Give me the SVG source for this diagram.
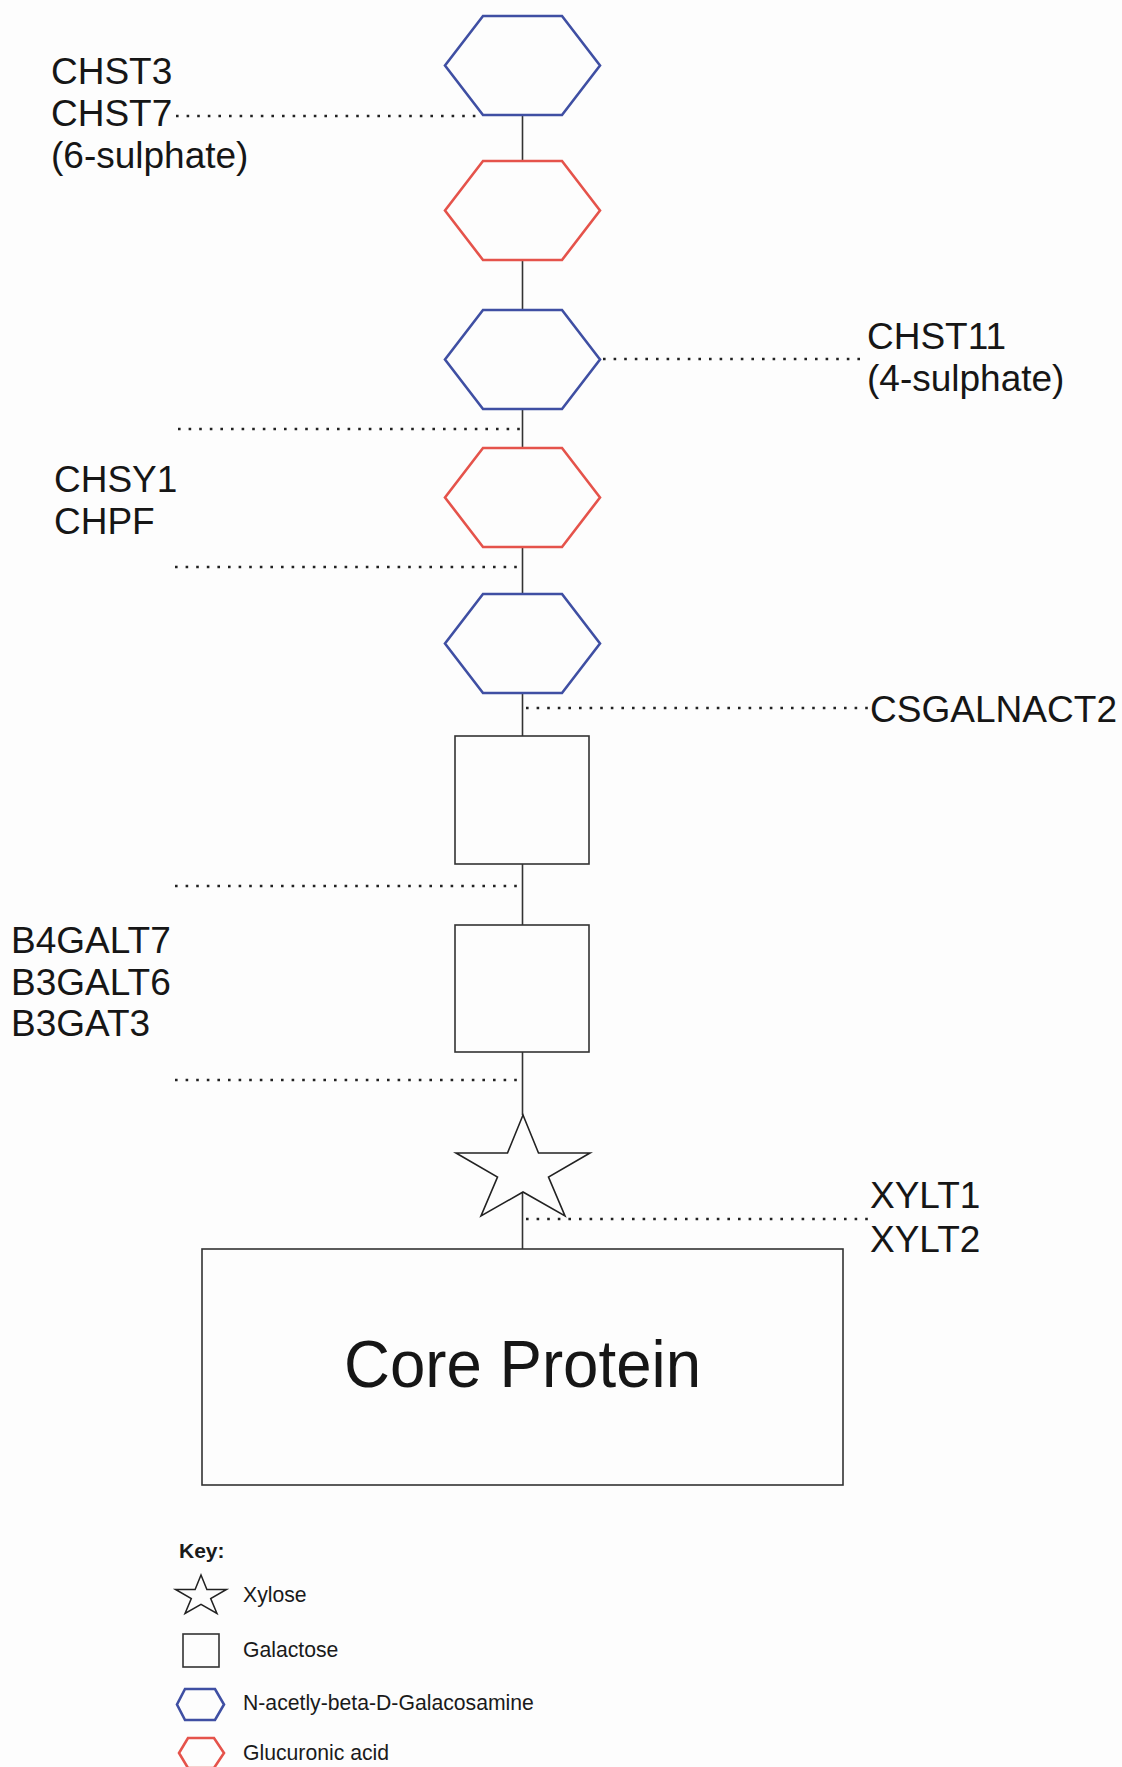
<svg xmlns="http://www.w3.org/2000/svg" xmlns:xlink="http://www.w3.org/1999/xlink" width="1122" height="1767" viewBox="0 0 1122 1767">
  <style>
    .bg { fill: #fdfdfd; }
    .hex { fill: none; stroke-width: 2.6; stroke-linejoin: miter; }
    .blue { stroke: #3f4fa3; }
    .red { stroke: #e5534b; }
    .box { fill: none; stroke: #333; stroke-width: 1.6; }
    .link { stroke: #333; stroke-width: 1.6; fill: none; }
    .dots { stroke: #222; stroke-width: 2.6; stroke-dasharray: 2.6 8; fill: none; }
    .lbl { font-family: "Liberation Sans", Arial, sans-serif; font-size: 37px; fill: #161616; }
    .core { font-family: "Liberation Sans", Arial, sans-serif; font-size: 67px; fill: #161616; }
    .key { font-family: "Liberation Sans", Arial, sans-serif; font-size: 21.2px; fill: #1a1a1a; }
    .keyhead { font-family: "Liberation Sans", Arial, sans-serif; font-size: 21px; font-weight: bold; fill: #1a1a1a; }
  </style>
  <defs>
    <!-- flat-topped hexagon, 155 x 99 -->
    <polygon id="hexShape" points="38,0 117,0 155,49.5 117,99 38,99 0,49.5"/>
    <!-- five-pointed star, origin at the top point -->
    <polygon id="starShape" points="0,0 15.5,38 67,38 25.5,62 42,101 0,77 -42,101 -25.5,62 -67,38 -15.5,38"/>
  </defs>

  <rect class="bg" x="0" y="0" width="1122" height="1767"/>

  <!-- backbone links between residues -->
  <g id="connectors">
    <line class="link" x1="522.5" y1="115" x2="522.5" y2="161"/>
    <line class="link" x1="522.5" y1="260" x2="522.5" y2="310"/>
    <line class="link" x1="522.5" y1="409" x2="522.5" y2="448"/>
    <line class="link" x1="522.5" y1="547" x2="522.5" y2="594"/>
    <line class="link" x1="522.5" y1="693" x2="522.5" y2="736"/>
    <line class="link" x1="522.5" y1="864" x2="522.5" y2="925"/>
    <line class="link" x1="522.5" y1="1052" x2="522.5" y2="1115"/>
    <line class="link" x1="522.5" y1="1192" x2="522.5" y2="1249"/>

    <!-- enzyme leader lines -->
    <line class="dots" x1="176" y1="116" x2="480" y2="116"/>
    <line class="dots" x1="603" y1="359" x2="864" y2="359"/>
    <line class="dots" x1="178" y1="429" x2="522" y2="429"/>
    <line class="dots" x1="175" y1="567" x2="522" y2="567"/>
    <line class="dots" x1="526" y1="708" x2="868" y2="708"/>
    <line class="dots" x1="175" y1="886" x2="522" y2="886"/>
    <line class="dots" x1="175" y1="1080" x2="522" y2="1080"/>
    <line class="dots" x1="526" y1="1219" x2="868" y2="1219"/>
  </g>

  <!-- glycosaminoglycan chain residues -->
  <g id="galnac-top"><use xlink:href="#hexShape" href="#hexShape" class="hex blue" x="445" y="16"/></g>
  <g id="glca-1"><use xlink:href="#hexShape" href="#hexShape" class="hex red" x="445" y="161"/></g>
  <g id="galnac-2"><use xlink:href="#hexShape" href="#hexShape" class="hex blue" x="445" y="310"/></g>
  <g id="glca-2"><use xlink:href="#hexShape" href="#hexShape" class="hex red" x="445" y="448"/></g>
  <g id="galnac-1"><use xlink:href="#hexShape" href="#hexShape" class="hex blue" x="445" y="594"/></g>
  <g id="gal-2"><rect class="box" x="455" y="736" width="134" height="128"/></g>
  <g id="gal-1"><rect class="box" x="455" y="925" width="134" height="127"/></g>
  <g id="xylose">
    <use xlink:href="#starShape" href="#starShape" x="523" y="1115" fill="none" stroke="#222" stroke-width="1.6"/>
  </g>
  <g id="core-protein">
    <rect class="box" x="202" y="1249" width="641" height="236"/>
    <text class="core" x="522.5" y="1387" text-anchor="middle" textLength="357" lengthAdjust="spacingAndGlyphs">Core Protein</text>
  </g>

  <!-- enzyme labels -->
  <g id="label-chst3-7">
    <text class="lbl" x="51" y="84">CHST3</text>
    <text class="lbl" x="51" y="126">CHST7</text>
    <text class="lbl" x="51" y="168">(6-sulphate)</text>
  </g>
  <g id="label-chst11">
    <text class="lbl" x="867" y="349">CHST11</text>
    <text class="lbl" x="867" y="391">(4-sulphate)</text>
  </g>
  <g id="label-chsy1">
    <text class="lbl" x="54" y="492">CHSY1</text>
    <text class="lbl" x="54" y="534">CHPF</text>
  </g>
  <g id="label-csgalnact2">
    <text class="lbl" x="870" y="722" textLength="247" lengthAdjust="spacingAndGlyphs">CSGALNACT2</text>
  </g>
  <g id="label-b4galt7">
    <text class="lbl" x="11" y="953">B4GALT7</text>
    <text class="lbl" x="11" y="995">B3GALT6</text>
    <text class="lbl" x="11" y="1036">B3GAT3</text>
  </g>
  <g id="label-xylt">
    <text class="lbl" x="870" y="1208">XYLT1</text>
    <text class="lbl" x="870" y="1252">XYLT2</text>
  </g>

  <!-- legend -->
  <g id="key">
    <text class="keyhead" x="179" y="1558">Key:</text>
    <g transform="translate(201,1575) scale(0.38)">
      <use xlink:href="#starShape" href="#starShape" fill="none" stroke="#222" stroke-width="4"/>
    </g>
    <text class="key" x="243" y="1602">Xylose</text>
    <rect class="box" x="183" y="1634" width="36" height="33"/>
    <text class="key" x="243" y="1657">Galactose</text>
    <polygon class="hex blue" points="185,1689 215,1689 224,1704.5 215,1720 185,1720 177,1704.5"/>
    <text class="key" x="243" y="1710">N-acetly-beta-D-Galacosamine</text>
    <polygon class="hex red" points="188,1738 214,1738 224,1753 214,1768 188,1768 179,1753"/>
    <text class="key" x="243" y="1760">Glucuronic acid</text>
  </g>
</svg>
